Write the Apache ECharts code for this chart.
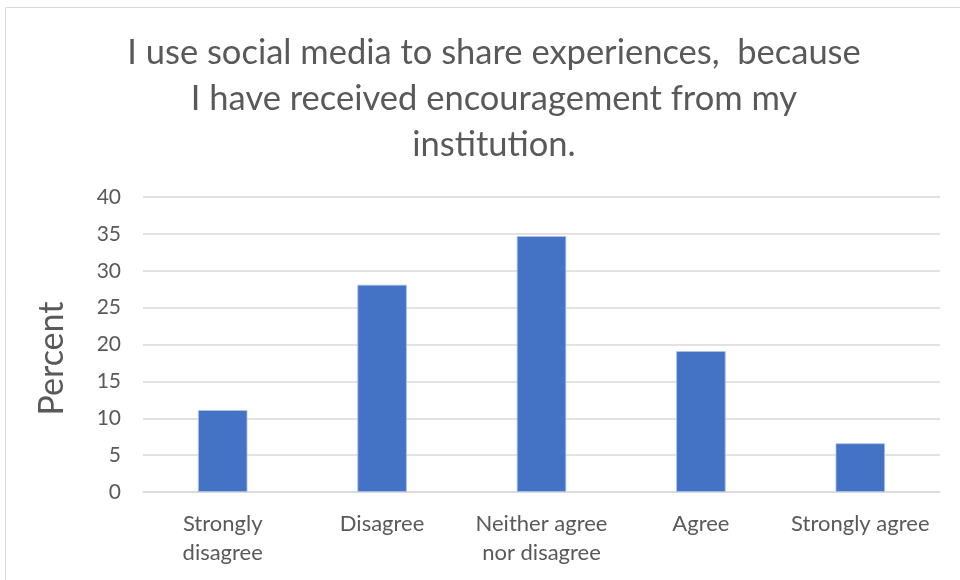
<!DOCTYPE html>
<html>
<head>
<meta charset="utf-8">
<script src="https://cdn.jsdelivr.net/npm/echarts@6/dist/echarts.min.js"></script>
<style>html,body{margin:0;padding:0;background:#fff}#c{width:960px;height:580px}</style>
</head>
<body>
<div id="c"></div>
<script>
const titleLines = ['I use social media to share experiences,  because', 'I have received encouragement from my', 'institution.'];
const categories = ['Strongly\ndisagree', 'Disagree', 'Neither agree\nnor disagree', 'Agree', 'Strongly agree'];
const percentValues = [11.1, 28.1, 34.7, 19.1, 6.6];
const yTicks = { min: 0, max: 40, interval: 5 };
const yAxisName = 'Percent';

const FONT = 'Lato, "Open Sans", sans-serif';
const chart = echarts.init(document.getElementById('c'), null, { renderer: 'canvas' });
chart.setOption({
  backgroundColor: '#ffffff',
  animation: false,
  title: {
    text: titleLines.join('\n'),
    left: 489,
    top: 25,
    textAlign: 'center',
    textStyle: { fontFamily: FONT, fontSize: 34.5, fontWeight: 'normal', color: '#595959', lineHeight: 46 }
  },
  graphic: [{
    type: 'rect', shape: { x: 5.5, y: 7.5, width: 1000, height: 1000 },
    style: { fill: 'none', stroke: '#d9d9d9', lineWidth: 1 }, silent: true
  }],
  grid: { left: 143, right: 20, top: 197, bottom: 88 },
  xAxis: {
    type: 'category',
    data: categories,
    axisLine: { show: true, lineStyle: { color: '#d9d9d9', width: 1.5 } },
    axisTick: { show: false },
    axisLabel: { fontFamily: FONT, fontSize: 22, color: '#595959', lineHeight: 29, margin: 17, interval: 0 }
  },
  yAxis: {
    type: 'value',
    min: yTicks.min, max: yTicks.max, interval: yTicks.interval,
    name: yAxisName,
    nameLocation: 'middle',
    nameGap: 74,
    nameRotate: 90,
    nameTextStyle: { fontFamily: FONT, fontSize: 34, color: '#595959', padding: [0, 28, 0, 0] },
    axisLine: { show: false },
    axisTick: { show: false },
    axisLabel: { fontFamily: FONT, fontSize: 21, color: '#595959', margin: 22 },
    splitLine: { lineStyle: { color: '#d9d9d9', width: 1.5 } }
  },
  series: [{
    type: 'bar',
    data: percentValues,
    barWidth: '31%',
    itemStyle: { color: '#4472c4', borderColor: '#a9c1ea', borderWidth: 0.8 }
  }]
});
</script>
</body>
</html>
